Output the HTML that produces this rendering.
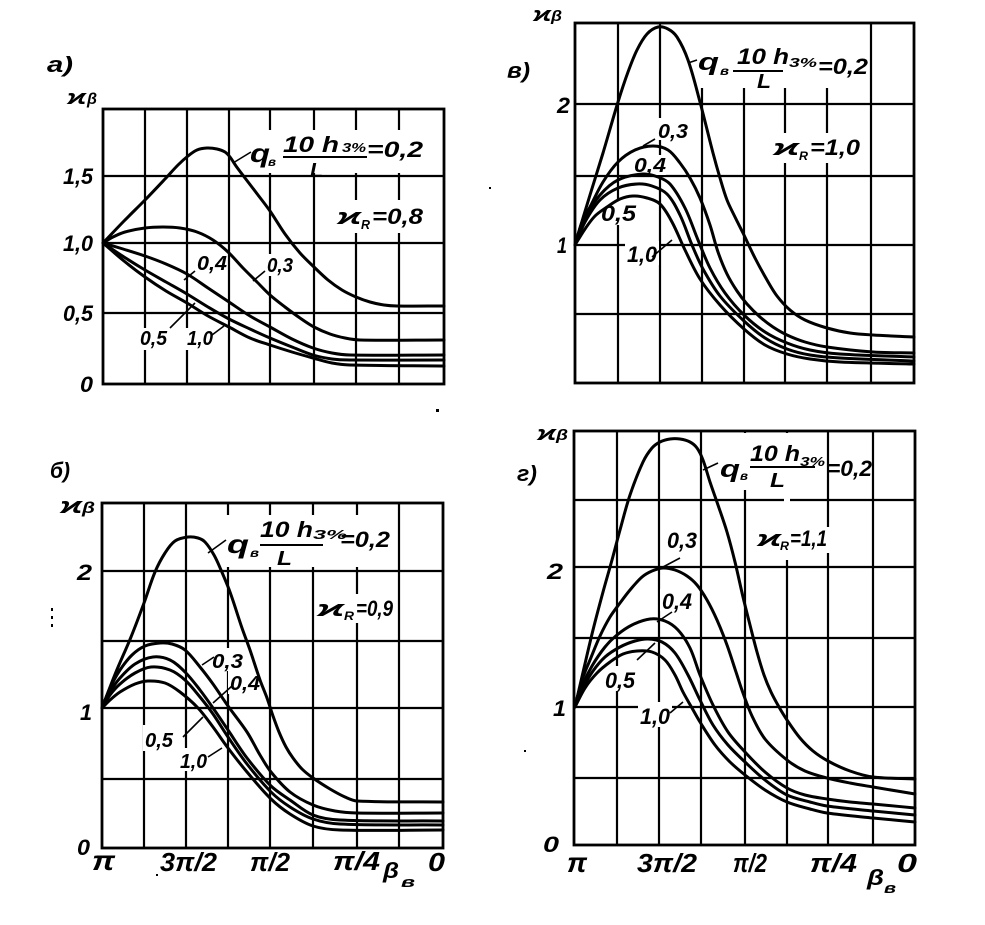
<!DOCTYPE html>
<html><head><meta charset="utf-8">
<style>
html,body{margin:0;padding:0;background:#fff;}
svg{display:block;}
text{font-family:"Liberation Sans","DejaVu Sans",sans-serif;font-style:italic;font-weight:bold;fill:#000;}
.g{stroke:#000;stroke-width:2.2;fill:none;}
.f{stroke:#000;stroke-width:2.8;fill:none;}
.c{stroke:#000;stroke-width:3;fill:none;stroke-linejoin:round;stroke-linecap:round;}
.l{stroke:#000;stroke-width:1.6;fill:none;}
.w{fill:#fff;stroke:none;}
</style></head>
<body>
<svg id="chart" width="985" height="925" viewBox="0 0 985 925" xmlns="http://www.w3.org/2000/svg">
<rect x="0" y="0" width="985" height="925" fill="#fff"/>

<!-- ================= PANEL a ================= -->
<g class="g">
<line x1="145" y1="109" x2="145" y2="384"/><line x1="187" y1="109" x2="187" y2="384"/>
<line x1="229" y1="109" x2="229" y2="384"/><line x1="270" y1="109" x2="270" y2="384"/>
<line x1="314" y1="109" x2="314" y2="384"/><line x1="356" y1="109" x2="356" y2="384"/>
<line x1="399" y1="109" x2="399" y2="384"/>
<line x1="103" y1="176" x2="444" y2="176"/><line x1="103" y1="243" x2="444" y2="243"/>
<line x1="103" y1="313" x2="444" y2="313"/>
</g>
<rect class="w" x="247" y="130" width="180" height="43"/>
<rect class="w" x="335" y="200" width="91" height="33"/>
<rect class="w" x="195" y="253" width="31" height="21"/>
<rect class="w" x="265" y="254" width="30" height="22"/>
<rect class="w" x="138" y="328" width="31" height="22"/>
<rect class="w" x="185" y="328" width="30" height="22"/>
<polyline class="c" points="103,243 124,221 145,200 165,179 178,165 188,156 197,150 207,148 217,149 225,152 230,157 236,166 245,178 258,195 270,211 285,234 300,253 314,267 328,280 342,290 356,297 370,302 384,305 397,306 444,306"/>
<polyline class="c" points="103,243 113,237 125,232 145,228 163,227 180,228 197,232 213,240 228,252 243,268 257,282 270,295 285,307 300,318 314,327 330,334 345,338 360,340 444,340"/>
<polyline class="c" points="103,243 123,249 145,256 166,264 187,274 208,288 229,302 250,316 270,327 292,339 313,348 332,353 350,355 444,355"/>
<polyline class="c" points="103,243 124,257 145,270 166,282 187,294 208,307 229,319 250,329 270,338 292,347 313,355 332,359 350,360 444,360"/>
<polyline class="c" points="103,243 124,261 145,277 166,291 187,303 208,316 229,327 250,338 270,345 292,352 313,358 332,363 350,365 444,366"/>
<g class="l">
<line x1="195" y1="271" x2="184" y2="280"/><line x1="265" y1="271" x2="253" y2="281"/>
<line x1="170" y1="328" x2="195" y2="303"/><line x1="212" y1="335" x2="224" y2="326"/>
<line x1="251" y1="152" x2="233" y2="163"/>
<line x1="283" y1="157" x2="367" y2="157" stroke-width="2"/>
</g>
<rect class="f" x="103" y="109" width="341" height="275"/>
<text x="47" y="72" font-size="22" textLength="26" lengthAdjust="spacingAndGlyphs">а)</text>
<text x="67" y="104" font-size="20" textLength="19" lengthAdjust="spacingAndGlyphs">ϰ</text>
<text x="87" y="104" font-size="16" textLength="10" lengthAdjust="spacingAndGlyphs">β</text>
<text x="63" y="184" font-size="22" textLength="30" lengthAdjust="spacingAndGlyphs">1,5</text>
<text x="63" y="251" font-size="22" textLength="30" lengthAdjust="spacingAndGlyphs">1,0</text>
<text x="63" y="321" font-size="22" textLength="30" lengthAdjust="spacingAndGlyphs">0,5</text>
<text x="80" y="392" font-size="22" textLength="13" lengthAdjust="spacingAndGlyphs">0</text>
<text x="250" y="162" font-size="26" textLength="20" lengthAdjust="spacingAndGlyphs">q</text>
<text x="268" y="166" font-size="12" textLength="8" lengthAdjust="spacingAndGlyphs">в</text>
<text x="283" y="152" font-size="22" textLength="56" lengthAdjust="spacingAndGlyphs">10 h</text>
<text x="342" y="152" font-size="13" textLength="24" lengthAdjust="spacingAndGlyphs">3%</text>
<text x="310" y="177" font-size="20" textLength="13" lengthAdjust="spacingAndGlyphs">L</text>
<text x="367" y="157" font-size="22" textLength="56" lengthAdjust="spacingAndGlyphs">=0,2</text>
<text x="337" y="224" font-size="22" textLength="24" lengthAdjust="spacingAndGlyphs">ϰ</text>
<text x="361" y="229" font-size="13" textLength="9" lengthAdjust="spacingAndGlyphs">R</text>
<text x="372" y="224" font-size="22" textLength="51" lengthAdjust="spacingAndGlyphs">=0,8</text>
<text x="197" y="270" font-size="20" textLength="30" lengthAdjust="spacingAndGlyphs">0,4</text>
<text x="267" y="272" font-size="20" textLength="26" lengthAdjust="spacingAndGlyphs">0,3</text>
<text x="140" y="345" font-size="20" textLength="27" lengthAdjust="spacingAndGlyphs">0,5</text>
<text x="187" y="345" font-size="20" textLength="26" lengthAdjust="spacingAndGlyphs">1,0</text>

<!-- ================= PANEL в ================= -->
<g class="g">
<line x1="618" y1="23" x2="618" y2="383"/><line x1="660" y1="23" x2="660" y2="383"/>
<line x1="702" y1="23" x2="702" y2="383"/><line x1="744" y1="23" x2="744" y2="383"/>
<line x1="785" y1="23" x2="785" y2="383"/><line x1="827" y1="23" x2="827" y2="383"/>
<line x1="871" y1="23" x2="871" y2="383"/>
<line x1="575" y1="104" x2="914" y2="104"/><line x1="575" y1="176" x2="914" y2="176"/>
<line x1="575" y1="245" x2="914" y2="245"/><line x1="575" y1="314" x2="914" y2="314"/>
</g>
<rect class="w" x="692" y="24" width="177" height="64"/>
<rect class="w" x="771" y="133" width="91" height="30"/>
<rect class="w" x="656" y="118" width="34" height="22"/>
<rect class="w" x="632" y="155" width="34" height="20"/>
<rect class="w" x="599" y="201" width="39" height="24"/>
<rect class="w" x="625" y="241" width="34" height="24"/>
<polyline class="c" points="575,245 580,228 590,195 603,153 618,102 628,72 637,50 647,34 658,27 668,29 677,37 688,60 700,102 713,153 720,178 727,200 735,217 743,233 755,258 767,280 777,296 790,310 805,320 827,328 850,333 873,335 914,337"/>
<polyline class="c" points="575,245 582,222 590,207 603,182 618,162 635,150 653,146 668,150 680,163 690,178 700,198 710,225 718,252 727,274 737,291 747,304 760,317 773,327 787,335 805,342 827,347 873,352 914,353"/>
<polyline class="c" points="575,245 585,218 600,195 618,180 643,174 658,177 670,184 685,208 698,240 710,268 725,293 744,315 765,332 787,343 810,350 840,354 914,357"/>
<polyline class="c" points="575,245 585,222 600,200 618,188 637,184 652,186 667,194 680,215 692,245 703,269 720,296 744,321 765,338 787,349 810,355 840,358 914,361"/>
<polyline class="c" points="575,245 585,229 595,216 607,207 620,199 633,196 647,198 660,204 672,222 685,250 700,279 720,305 744,329 765,345 787,354 810,359 840,362 914,364"/>
<g class="l">
<line x1="655" y1="139" x2="643" y2="146"/>
<line x1="652" y1="257" x2="672" y2="240"/>
<line x1="697" y1="60" x2="688" y2="63"/>
<line x1="733" y1="71" x2="783" y2="71" stroke-width="2"/>
</g>
<rect class="f" x="575" y="23" width="339" height="360"/>
<text x="507" y="78" font-size="22" textLength="23" lengthAdjust="spacingAndGlyphs">в)</text>
<text x="533" y="21" font-size="20" textLength="18" lengthAdjust="spacingAndGlyphs">ϰ</text>
<text x="551" y="21" font-size="15" textLength="11" lengthAdjust="spacingAndGlyphs">β</text>
<text x="557" y="113" font-size="22" textLength="13" lengthAdjust="spacingAndGlyphs">2</text>
<text x="557" y="253" font-size="22" textLength="10" lengthAdjust="spacingAndGlyphs">1</text>
<text x="698" y="70" font-size="24" textLength="21" lengthAdjust="spacingAndGlyphs">q</text>
<text x="720" y="75" font-size="12" textLength="9" lengthAdjust="spacingAndGlyphs">в</text>
<text x="737" y="64" font-size="22" textLength="52" lengthAdjust="spacingAndGlyphs">10 h</text>
<text x="789" y="67" font-size="13" textLength="28" lengthAdjust="spacingAndGlyphs">3%</text>
<text x="757" y="88" font-size="20" textLength="14" lengthAdjust="spacingAndGlyphs">L</text>
<text x="818" y="74" font-size="22" textLength="50" lengthAdjust="spacingAndGlyphs">=0,2</text>
<text x="773" y="155" font-size="22" textLength="26" lengthAdjust="spacingAndGlyphs">ϰ</text>
<text x="799" y="160" font-size="12" textLength="9" lengthAdjust="spacingAndGlyphs">R</text>
<text x="810" y="155" font-size="22" textLength="50" lengthAdjust="spacingAndGlyphs">=1,0</text>
<text x="658" y="138" font-size="20" textLength="30" lengthAdjust="spacingAndGlyphs">0,3</text>
<text x="634" y="172" font-size="20" textLength="32" lengthAdjust="spacingAndGlyphs">0,4</text>
<text x="601" y="221" font-size="22" textLength="35" lengthAdjust="spacingAndGlyphs">0,5</text>
<text x="627" y="262" font-size="22" textLength="30" lengthAdjust="spacingAndGlyphs">1,0</text>

<!-- ================= PANEL б ================= -->
<g class="g">
<line x1="144" y1="503" x2="144" y2="848"/><line x1="186" y1="503" x2="186" y2="848"/>
<line x1="228" y1="503" x2="228" y2="848"/><line x1="270" y1="503" x2="270" y2="848"/>
<line x1="313" y1="503" x2="313" y2="848"/><line x1="357" y1="503" x2="357" y2="848"/>
<line x1="399" y1="503" x2="399" y2="848"/>
<line x1="102" y1="571" x2="443" y2="571"/><line x1="102" y1="641" x2="443" y2="641"/>
<line x1="102" y1="708" x2="443" y2="708"/><line x1="102" y1="779" x2="443" y2="779"/>
</g>
<rect class="w" x="225" y="515" width="167" height="52"/>
<rect class="w" x="315" y="594" width="81" height="29"/>
<rect class="w" x="210" y="648" width="35" height="23"/>
<rect class="w" x="228" y="668" width="34" height="26"/>
<rect class="w" x="143" y="725" width="32" height="26"/>
<rect class="w" x="178" y="748" width="31" height="23"/>
<polyline class="c" points="102,708 116,672 131,637 144,603 155,572 165,553 175,541 188,537 198,538 205,542 214,555 221,570 230,592 242,628 250,650 260,680 267,698 273,716 279,732 286,747 293,758 302,769 313,778 330,789 345,797 357,801 443,802"/>
<polyline class="c" points="102,708 110,688 120,670 132,655 145,646 160,643 172,644 185,650 200,667 213,684 228,706 247,732 260,755 271,772 290,792 313,805 335,811 357,813 443,813"/>
<polyline class="c" points="102,708 110,692 120,678 135,664 153,657 170,660 185,672 200,690 213,708 228,730 247,758 271,786 290,800 313,815 340,820 443,821"/>
<polyline class="c" points="102,708 110,695 120,684 135,673 151,667 170,670 185,680 200,697 213,714 228,737 247,764 271,792 290,807 313,819 340,824 443,825"/>
<polyline class="c" points="102,708 110,700 120,692 135,684 148,681 165,683 180,692 198,708 213,727 228,748 247,772 271,799 290,814 313,826 340,830 443,830"/>
<g class="l">
<line x1="202" y1="665" x2="214" y2="657"/><line x1="213" y1="703" x2="232" y2="686"/>
<line x1="183" y1="737" x2="203" y2="717"/><line x1="208" y1="757" x2="222" y2="748"/>
<line x1="208" y1="553" x2="226" y2="540"/>
<line x1="260" y1="545" x2="323" y2="545" stroke-width="2"/>
</g>
<rect class="f" x="102" y="503" width="341" height="345"/>
<text x="50" y="478" font-size="22" textLength="20" lengthAdjust="spacingAndGlyphs">б)</text>
<text x="60" y="513" font-size="22" textLength="22" lengthAdjust="spacingAndGlyphs">ϰ</text>
<text x="82" y="513" font-size="16" textLength="13" lengthAdjust="spacingAndGlyphs">β</text>
<text x="77" y="580" font-size="22" textLength="15" lengthAdjust="spacingAndGlyphs">2</text>
<text x="80" y="720" font-size="22" textLength="12" lengthAdjust="spacingAndGlyphs">1</text>
<text x="77" y="855" font-size="22" textLength="13" lengthAdjust="spacingAndGlyphs">0</text>
<text x="227" y="553" font-size="26" textLength="22" lengthAdjust="spacingAndGlyphs">q</text>
<text x="250" y="557" font-size="12" textLength="9" lengthAdjust="spacingAndGlyphs">в</text>
<text x="260" y="537" font-size="22" textLength="53" lengthAdjust="spacingAndGlyphs">10 h</text>
<text x="313" y="539" font-size="13" textLength="34" lengthAdjust="spacingAndGlyphs">3%</text>
<text x="277" y="565" font-size="20" textLength="15" lengthAdjust="spacingAndGlyphs">L</text>
<text x="340" y="547" font-size="22" textLength="50" lengthAdjust="spacingAndGlyphs">=0,2</text>
<text x="317" y="616" font-size="22" textLength="27" lengthAdjust="spacingAndGlyphs">ϰ</text>
<text x="344" y="620" font-size="12" textLength="10" lengthAdjust="spacingAndGlyphs">R</text>
<text x="356" y="616" font-size="22" textLength="37" lengthAdjust="spacingAndGlyphs">=0,9</text>
<text x="212" y="668" font-size="20" textLength="31" lengthAdjust="spacingAndGlyphs">0,3</text>
<text x="230" y="690" font-size="20" textLength="30" lengthAdjust="spacingAndGlyphs">0,4</text>
<text x="145" y="747" font-size="20" textLength="28" lengthAdjust="spacingAndGlyphs">0,5</text>
<text x="180" y="768" font-size="20" textLength="27" lengthAdjust="spacingAndGlyphs">1,0</text>
<text x="92" y="870" font-size="28" textLength="23" lengthAdjust="spacingAndGlyphs">π</text>
<text x="160" y="871" font-size="26" textLength="57" lengthAdjust="spacingAndGlyphs">3π/2</text>
<text x="250" y="871" font-size="26" textLength="40" lengthAdjust="spacingAndGlyphs">π/2</text>
<text x="333" y="870" font-size="26" textLength="47" lengthAdjust="spacingAndGlyphs">π/4</text>
<text x="383" y="878" font-size="22" textLength="16" lengthAdjust="spacingAndGlyphs">β</text>
<text x="401" y="887" font-size="15" textLength="14" lengthAdjust="spacingAndGlyphs">в</text>
<text x="428" y="871" font-size="26" textLength="17" lengthAdjust="spacingAndGlyphs">0</text>

<!-- ================= PANEL г ================= -->
<g class="g">
<line x1="617" y1="431" x2="617" y2="845"/><line x1="659" y1="431" x2="659" y2="845"/>
<line x1="701" y1="431" x2="701" y2="845"/><line x1="745" y1="431" x2="745" y2="845"/>
<line x1="787" y1="431" x2="787" y2="845"/><line x1="828" y1="431" x2="828" y2="845"/>
<line x1="873" y1="431" x2="873" y2="845"/>
<line x1="574" y1="500" x2="915" y2="500"/><line x1="574" y1="567" x2="915" y2="567"/>
<line x1="574" y1="638" x2="915" y2="638"/><line x1="574" y1="707" x2="915" y2="707"/>
<line x1="574" y1="778" x2="915" y2="778"/>
</g>
<rect class="w" x="718" y="433" width="108" height="57"/>
<rect class="w" x="830" y="440" width="41" height="50"/>
<rect class="w" x="755" y="527" width="75" height="26"/>
<rect class="w" x="784" y="433" width="6" height="127"/>
<rect class="w" x="665" y="526" width="34" height="25"/>
<rect class="w" x="660" y="589" width="34" height="22"/>
<rect class="w" x="603" y="666" width="34" height="25"/>
<rect class="w" x="638" y="702" width="34" height="25"/>
<polyline class="c" points="575,707 584,668 593,630 603,592 612,560 620,530 630,495 643,462 652,448 660,442 670,439 680,439 690,442 697,448 703,460 710,482 718,505 727,532 735,562 743,597 750,625 757,652 764,675 771,692 779,707 787,720 800,738 813,751 828,761 850,771 873,777 915,779"/>
<polyline class="c" points="575,707 582,680 590,660 600,636 610,617 620,603 630,590 642,577 652,571 663,568 675,570 687,576 697,585 707,600 717,620 727,645 736,672 743,693 752,716 765,739 787,760 805,771 827,778 850,783 873,787 915,794"/>
<polyline class="c" points="575,707 582,686 592,666 605,647 617,635 632,625 650,619 665,621 678,630 690,648 700,675 713,705 728,732 745,752 765,772 787,788 805,795 827,799 850,802 873,804 915,808"/>
<polyline class="c" points="575,707 583,688 593,671 605,657 620,647 635,641 648,639 662,642 675,653 688,675 700,700 713,725 728,745 745,762 765,780 787,795 810,802 827,806 873,811 915,815"/>
<polyline class="c" points="575,707 585,688 597,673 610,662 623,654 637,651 652,652 665,660 675,675 683,692 692,708 700,722 715,745 730,762 745,775 765,790 787,802 810,809 827,813 873,818 915,822"/>
<g class="l">
<line x1="663" y1="567" x2="680" y2="558"/><line x1="657" y1="622" x2="672" y2="612"/>
<line x1="637" y1="660" x2="655" y2="643"/><line x1="670" y1="713" x2="683" y2="702"/>
<line x1="703" y1="470" x2="718" y2="463"/>
<line x1="750" y1="467" x2="815" y2="467" stroke-width="2"/>
</g>
<rect class="f" x="574" y="431" width="341" height="414"/>
<text x="517" y="481" font-size="22" textLength="20" lengthAdjust="spacingAndGlyphs">г)</text>
<text x="537" y="440" font-size="20" textLength="19" lengthAdjust="spacingAndGlyphs">ϰ</text>
<text x="556" y="440" font-size="15" textLength="12" lengthAdjust="spacingAndGlyphs">β</text>
<text x="547" y="579" font-size="22" textLength="16" lengthAdjust="spacingAndGlyphs">2</text>
<text x="553" y="716" font-size="22" textLength="13" lengthAdjust="spacingAndGlyphs">1</text>
<text x="543" y="852" font-size="22" textLength="16" lengthAdjust="spacingAndGlyphs">0</text>
<text x="720" y="477" font-size="24" textLength="20" lengthAdjust="spacingAndGlyphs">q</text>
<text x="740" y="480" font-size="12" textLength="8" lengthAdjust="spacingAndGlyphs">в</text>
<text x="750" y="461" font-size="22" textLength="50" lengthAdjust="spacingAndGlyphs">10 h</text>
<text x="800" y="466" font-size="13" textLength="25" lengthAdjust="spacingAndGlyphs">3%</text>
<text x="770" y="487" font-size="20" textLength="15" lengthAdjust="spacingAndGlyphs">L</text>
<text x="827" y="476" font-size="22" textLength="45" lengthAdjust="spacingAndGlyphs">=0,2</text>
<text x="757" y="546" font-size="22" textLength="24" lengthAdjust="spacingAndGlyphs">ϰ</text>
<text x="780" y="550" font-size="12" textLength="9" lengthAdjust="spacingAndGlyphs">R</text>
<text x="790" y="546" font-size="22" textLength="37" lengthAdjust="spacingAndGlyphs">=1,1</text>
<text x="667" y="548" font-size="22" textLength="30" lengthAdjust="spacingAndGlyphs">0,3</text>
<text x="662" y="609" font-size="22" textLength="30" lengthAdjust="spacingAndGlyphs">0,4</text>
<text x="605" y="688" font-size="22" textLength="30" lengthAdjust="spacingAndGlyphs">0,5</text>
<text x="640" y="724" font-size="22" textLength="30" lengthAdjust="spacingAndGlyphs">1,0</text>
<text x="567" y="872" font-size="28" textLength="20" lengthAdjust="spacingAndGlyphs">π</text>
<text x="637" y="872" font-size="26" textLength="60" lengthAdjust="spacingAndGlyphs">3π/2</text>
<text x="733" y="872" font-size="26" textLength="34" lengthAdjust="spacingAndGlyphs">π/2</text>
<text x="810" y="872" font-size="26" textLength="47" lengthAdjust="spacingAndGlyphs">π/4</text>
<text x="867" y="885" font-size="22" textLength="17" lengthAdjust="spacingAndGlyphs">β</text>
<text x="884" y="893" font-size="15" textLength="12" lengthAdjust="spacingAndGlyphs">в</text>
<text x="897" y="872" font-size="26" textLength="20" lengthAdjust="spacingAndGlyphs">0</text>

<!-- stray scan marks -->
<rect x="436" y="409" width="3" height="3" fill="#000"/>
<rect x="489" y="187" width="2" height="2" fill="#000"/>
<rect x="51" y="608" width="2" height="3" fill="#000"/>
<rect x="51" y="616" width="2" height="3" fill="#000"/>
<rect x="51" y="624" width="2" height="3" fill="#000"/>
<rect x="524" y="750" width="2" height="2" fill="#000"/>
<rect x="156" y="874" width="2" height="2" fill="#000"/>
</svg>
<script>
(function(){
  var NS="http://www.w3.org/2000/svg";
  var pls=document.querySelectorAll("polyline.c");
  for(var k=0;k<pls.length;k++){
    var pl=pls[k];
    var raw=pl.getAttribute("points").trim().split(/\s+/);
    var p=[];
    for(var i=0;i<raw.length;i++){var a=raw[i].split(",");p.push([+a[0],+a[1]]);}
    var n=p.length;
    var dir=[];
    for(var i=0;i<n;i++){
      var a=p[Math.max(0,i-1)],b=p[Math.min(n-1,i+1)];
      var dx=b[0]-a[0],dy=b[1]-a[1],L=Math.sqrt(dx*dx+dy*dy)||1;
      dir.push([dx/L,dy/L]);
    }
    var d="M"+p[0][0]+","+p[0][1];
    for(var i=0;i<n-1;i++){
      var sx=p[i+1][0]-p[i][0],sy=p[i+1][1]-p[i][1];
      var s=Math.sqrt(sx*sx+sy*sy)/3;
      var c1=[p[i][0]+dir[i][0]*s,p[i][1]+dir[i][1]*s];
      var c2=[p[i+1][0]-dir[i+1][0]*s,p[i+1][1]-dir[i+1][1]*s];
      d+=" C"+c1[0].toFixed(2)+","+c1[1].toFixed(2)+" "+c2[0].toFixed(2)+","+c2[1].toFixed(2)+" "+p[i+1][0]+","+p[i+1][1];
    }
    var path=document.createElementNS(NS,"path");
    path.setAttribute("d",d);
    path.setAttribute("class","c");
    pl.parentNode.replaceChild(path,pl);
  }
})();
</script>
</body></html>
